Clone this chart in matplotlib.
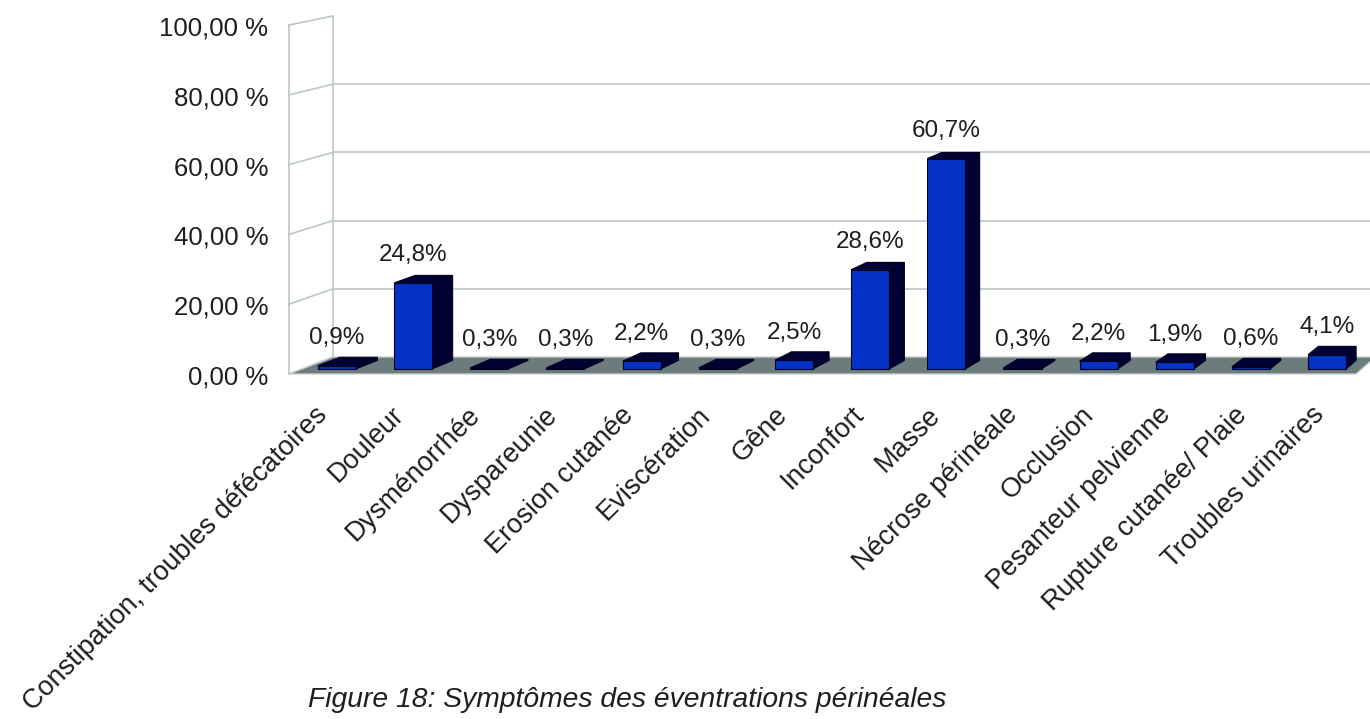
import numpy as np
import matplotlib
matplotlib.use("Agg")
import matplotlib.pyplot as plt
from matplotlib.patches import Polygon

plt.rcParams['font.family'] = ['Liberation Sans', 'DejaVu Sans']

# data
categories = ['Constipation, troubles défécatoires', 'Douleur', 'Dysménorrhée',
              'Dyspareunie', 'Erosion cutanée', 'Eviscération', 'Gêne', 'Inconfort',
              'Masse', 'Nécrose périnéale', 'Occlusion', 'Pesanteur pelvienne',
              'Rupture cutanée/ Plaie', 'Troubles urinaires']
values = [0.9, 24.8, 0.3, 0.3, 2.2, 0.3, 2.5, 28.6, 60.7, 0.3, 2.2, 1.9, 0.6, 4.1]
value_labels = ['0,9%', '24,8%', '0,3%', '0,3%', '2,2%', '0,3%', '2,5%', '28,6%',
                '60,7%', '0,3%', '2,2%', '1,9%', '0,6%', '4,1%']
yticks = [0, 20, 40, 60, 80, 100]
ytick_labels = ['0,00 %', '20,00 %', '40,00 %', '60,00 %', '80,00 %', '100,00 %']
caption = 'Figure 18: Symptômes des éventrations périnéales'

# layout (pixel calibration of the front plane)
W, H = 1370, 719
px_per_cat = 76.7
px_per_pct = 3.49
x0_px, y0_px = 324, 374          # category 0, value 0 on the front plane
vanish_px = (2200, -366)         # perspective vanishing point
shrink = 0.023                   # scale loss from front to back wall

fig = plt.figure(figsize=(W / 100, H / 100), dpi=100)
ax = fig.add_axes([0, 0, 1, 1])
ax.set_xlim(-x0_px / px_per_cat, (W - x0_px) / px_per_cat)
ax.set_ylim((y0_px - H) / px_per_pct, y0_px / px_per_pct)
ax.axis('off')

i0 = (vanish_px[0] - x0_px) / px_per_cat
v0 = (y0_px - vanish_px[1]) / px_per_pct


def proj(i, v, d):
    s = 1 - shrink * d
    return (i0 + (i - i0) * s, v0 + (v - v0) * s)


left, right = -0.456, 13.456
grid_col = '#bcc6c6'

# walls / gridlines
for v in yticks:
    a, b = proj(left, v, 0), proj(left, v, 1)
    ax.plot([a[0], b[0]], [a[1], b[1]], color=grid_col, lw=1.2, zorder=1)
    if 0 < v < 100:
        c = proj(right + 0.3, v, 1)
        ax.plot([b[0], c[0]], [b[1], c[1]], color=grid_col, lw=1.2, zorder=1)
for d in (0, 1):
    a, b = proj(left, 0, d), proj(left, 100, d)
    ax.plot([a[0], b[0]], [a[1], b[1]], color=grid_col, lw=1.2, zorder=1)

# floor
floor = [proj(left, 0, 0), proj(right, 0, 0), proj(right, 0, 1), proj(left, 0, 1)]
ax.add_patch(Polygon(floor, closed=True, facecolor='#6c7b7b', edgecolor='#c8d0d0',
                     lw=1, zorder=2))

# bars
hw = 0.25
df, db = 0.3, 0.8
front_col, dark_col, edge_col = '#0432c6', '#000033', '#000022'
for i, v in enumerate(values):
    front = [proj(i - hw, 0, df), proj(i + hw, 0, df), proj(i + hw, v, df), proj(i - hw, v, df)]
    side = [proj(i + hw, 0, df), proj(i + hw, 0, db), proj(i + hw, v, db), proj(i + hw, v, df)]
    top = [proj(i - hw, v, df), proj(i + hw, v, df), proj(i + hw, v, db), proj(i - hw, v, db)]
    for poly, col in ((side, dark_col), (top, dark_col), (front, front_col)):
        ax.add_patch(Polygon(poly, closed=True, facecolor=col, edgecolor=edge_col,
                             lw=0.8, zorder=3))
    ax.annotate(value_labels[i], xy=proj(i, v, df), xytext=(0, 15.5),
                textcoords='offset points', ha='center', va='baseline',
                fontsize=17.5, color='#1e1e1e', zorder=4)
    ax.annotate(categories[i], xy=proj(i, 0, 0), xytext=(6, -20),
                textcoords='offset points', ha='right', va='top', rotation=45,
                fontsize=19.5, color='#1e1e1e')

# y tick labels on the front edge
for v, lab in zip(yticks, ytick_labels):
    ax.annotate(lab, xy=proj(left, v, 0), xytext=(-15, -7.5),
                textcoords='offset points', ha='right', va='baseline',
                fontsize=18.5, color='#1e1e1e')

fig.text(627 / W, 12 / H, caption, ha='center', va='baseline', fontsize=20.3,
         style='italic', color='#1e1e1e')

fig.savefig('out.png', dpi=100)
